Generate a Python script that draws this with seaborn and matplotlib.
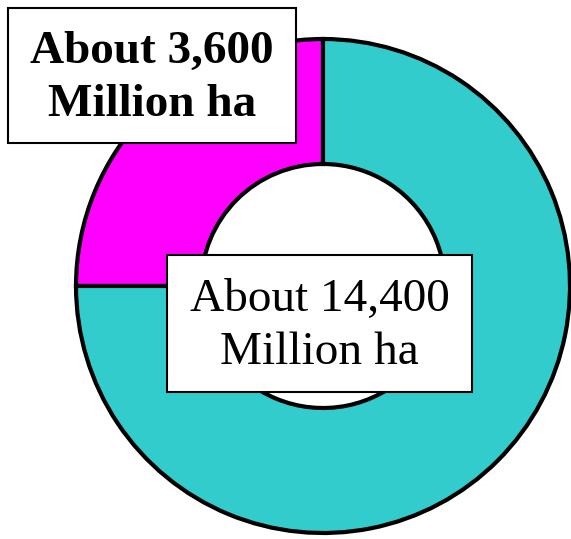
import matplotlib
matplotlib.use("Agg")
import matplotlib.pyplot as plt
import seaborn as sns
from matplotlib.patches import Rectangle

sns.set_theme(style="white")
plt.rcParams['font.family'] = ['Liberation Serif', 'DejaVu Serif']

# Data
categories = ["Cropland", "Other land"]
values = [3600, 10800]          # slice sizes as drawn (quarter vs three quarters)
labels = ["About 3,600\nMillion ha", "About 14,400\nMillion ha"]
colors = ["#FF00FF", "#33CCCC"]

W, H = 571, 539
fig = plt.figure(figsize=(W / 100, H / 100), dpi=100)
ax = fig.add_axes([0, 0, 1, 1])

cx, cy, R, r_in = 323, 253, 247, 122
ax.pie(values, colors=colors, startangle=90, counterclock=True,
       center=(cx, cy), radius=R, frame=True,
       wedgeprops=dict(width=R - r_in, edgecolor="black", linewidth=3))
ax.set_xlim(0, W)
ax.set_ylim(0, H)
ax.set_aspect("equal")
ax.axis("off")

# Label boxes
boxes = [(8, H - 143, 288, 135, "bold"), (167, H - 392, 305, 137, "normal")]
for (x0, y0, w, h, weight), lab in zip(boxes, labels):
    ax.add_patch(Rectangle((x0, y0), w, h, facecolor="white", edgecolor="black",
                           linewidth=1.5, zorder=5))
    ax.text(x0 + w / 2, y0 + h / 2 - 3, lab, ha="center", va="center",
            fontsize=34, fontweight=weight, linespacing=1.33, color="black", zorder=6)

fig.savefig("out.png", dpi=100)
